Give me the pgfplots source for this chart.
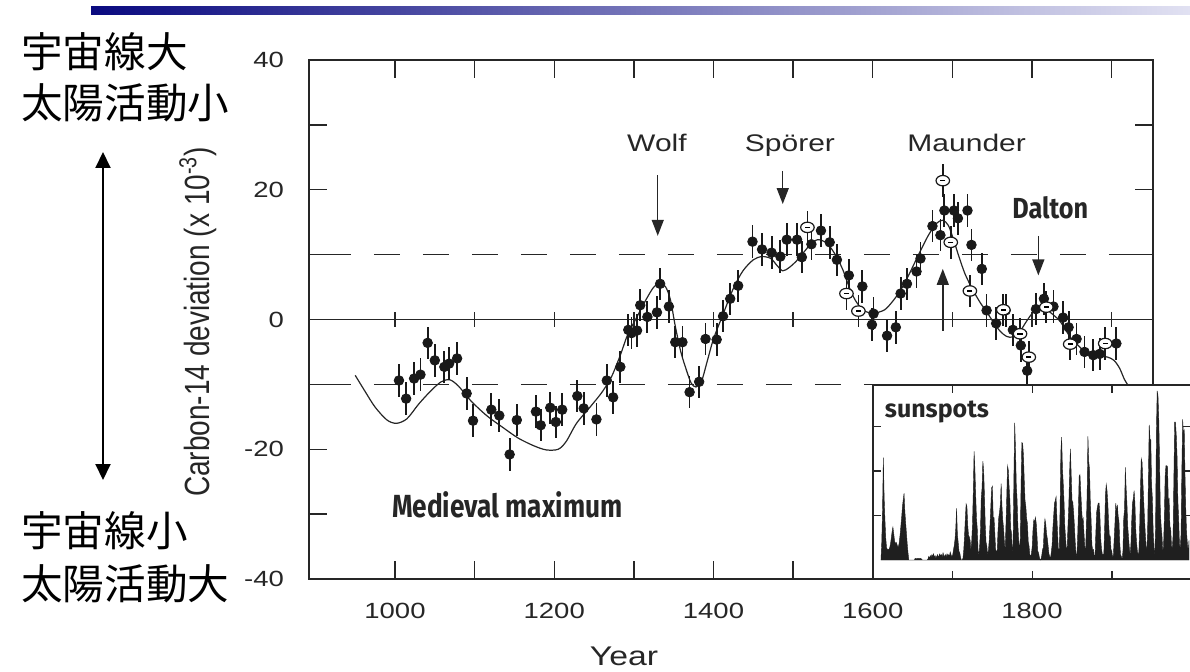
\documentclass[border=0pt]{standalone}
\usepackage{pgfplots}
\pgfplotsset{compat=1.18}
\usepackage{fontspec}
\setmainfont{Liberation Sans}
\newfontfamily\cjk{Noto Sans CJK JP}
\newfontfamily\fira{Fira Sans}
\usetikzlibrary{arrows.meta}
\definecolor{ink}{gray}{0.15}
\definecolor{navy}{RGB}{10,10,128}
\definecolor{lav}{RGB}{225,225,242}
\tikzset{img/.style={x=0.5pt,y=-0.5pt,yshift=335.5pt}}

\begin{document}
\begin{tikzpicture}
\useasboundingbox (0,0) rectangle (595pt,335.5pt);
\clip (0,0) rectangle (595pt,335.5pt);

% main carbon-14 panel
\begin{axis}[
  at={(154.5pt,46pt)}, anchor=south west,
  scale only axis, width=422pt, height=259.5pt,
  xmin=892, xmax=1952, ymin=-40, ymax=40,
  axis line style={ink, line width=0.7pt},
  tick style={ink, line width=0.7pt},
  tick align=inside, major tick length=9pt,
  xtick={1000,1100,...,1900},
  xticklabels={1000,,1200,,1400,,1600,,1800,},
  ytick={-40,-30,...,40},
  yticklabels={-40,,-20,,0,,20,,40},
  xticklabel style={font=\fontsize{11}{12}\selectfont, text=ink, xscale=1.25, yshift=-8.5pt},
  yticklabel style={font=\fontsize{11}{12}\selectfont, text=ink, xscale=1.25, xshift=-6.5pt},
]
\addplot[ink, line width=0.7pt] coordinates {(892,0) (1952,0)};
\addplot[only marks, mark=|, mark size=3.75pt, mark options={ink, line width=0.7pt}]
  coordinates {(1000,0)(1100,0)(1200,0)(1300,0)(1400,0)(1500,0)(1600,0)(1700,0)(1800,0)(1900,0)};
\addplot[ink, line width=0.7pt, dash pattern=on 13pt off 11.5pt] coordinates {(912,10) (1952,10)};
\addplot[ink, line width=0.7pt, dash pattern=on 13pt off 11.5pt] coordinates {(912,-10) (1952,-10)};

% smoothed curve
\addplot[ink, line width=0.6pt, smooth] coordinates {
(950,-8.6)(962,-11)(975,-13.5)(990,-15.5)(1002,-16)(1015,-15.3)(1030,-13)(1045,-11)
(1058,-9.6)(1069,-9.3)(1080,-10.3)(1095,-12.5)(1115,-14.8)(1135,-16.6)(1155,-18.3)
(1175,-19.5)(1190,-20.1)(1205,-20)(1215,-18.8)(1228,-16)(1245,-13.5)(1260,-11.2)
(1272,-8.8)(1283,-5.5)(1292,-2.4)(1303,0.2)(1315,3)(1325,5)(1333,5.6)(1340,5)(1346,3)
(1352,-1)(1359,-5)(1366,-7.8)(1372,-9.8)(1378,-10.4)(1385,-9.5)(1392,-6.5)(1400,-3)
(1412,0.8)(1425,4.8)(1437,7.5)(1450,9.2)(1461,9.7)(1472,9.4)(1480,8.3)(1487,7.5)
(1495,8)(1504,9)(1513,10.3)(1522,11.6)(1531,12.3)(1542,11.8)(1552,10.2)(1562,7.8)
(1572,4.5)(1580,2.6)(1590,1.3)(1602,1)(1615,1.5)(1625,2.8)(1635,4.5)(1645,6.8)
(1658,10.1)(1670,13)(1680,14.8)(1688,15.3)(1695,14.5)(1701,12.5)(1708,9.8)(1716,7)
(1726,4.5)(1735,2.6)(1743,1.2)(1752,-0.5)(1760,-1.8)(1768,-2.6)(1776,-2.7)(1784,-2)
(1793,-0.3)(1800,0.9)(1808,1.7)(1818,1.5)(1827,0.7)(1836,-0.4)(1848,-2.7)(1858,-4)
(1866,-4.9)(1875,-5.4)(1884,-5.6)(1895,-5.8)(1903,-6.3)(1910,-7.5)(1916,-9.2)(1921,-10.2)
};

% measurements
\addplot[only marks, mark=*, mark size=2.4pt, black!90,
  error bars/.cd, y dir=both, y fixed=2.5, error mark=none,
  error bar style={line width=0.9pt, black!90}] coordinates {
(1005,-9.4)(1014,-12.2)(1024,-9.1)(1032,-8.5)(1041,-3.6)(1050,-6.3)(1062,-7.3)(1068,-6.8)
(1078,-6.0)(1090,-11.4)(1098,-15.6)(1121,-13.9)(1131,-14.8)(1144,-20.8)(1153,-15.5)
(1177,-14.2)(1183,-16.3)(1195,-13.6)(1202,-15.8)(1210,-13.9)(1229,-11.8)(1237,-13.7)
(1253,-15.4)(1266,-9.4)(1274,-12.0)(1283,-7.3)(1293,-1.6)(1297,-2.1)(1304,-1.7)(1308,2.2)
(1317,0.4)(1329,1.1)(1333,5.5)(1344,2.0)(1352,-3.5)(1361,-3.5)(1370,-11.2)(1382,-9.6)
(1390,-3.0)(1404,-3.1)(1412,0.5)(1421,3.2)(1431,5.2)(1449,12.0)(1461,10.8)(1473,10.3)
(1484,9.7)(1492,12.3)(1505,12.3)(1511,9.6)(1523,11.6)(1535,13.7)(1546,11.9)(1555,9.2)
(1570,6.8)(1587,5.1)(1601,0.9)(1599,-0.8)(1618,-2.5)(1629,-1.2)(1635,4.0)(1643,5.5)
(1655,7.4)(1660,9.4)(1675,14.4)(1685,13.0)(1690,16.8)(1702,16.8)(1707,15.6)(1719,16.8)
(1724,11.5)(1737,7.8)(1743,1.4)(1755,-0.6)(1767,1.4)(1776,-1.6)(1786,-4.0)(1794,-7.9)
(1805,1.6)(1815,3.2)(1827,2.0)(1839,0.3)(1846,-1.2)(1856,-3.0)(1866,-5.0)(1877,-5.5)
(1885,-5.3)(1906,-3.7)
};
% open (other-source) points
\addplot[only marks, mark=*, mark size=2.6pt,
  mark options={fill=white, draw=black!90, line width=0.6pt, xscale=1.3},
  error bars/.cd, y dir=both, y fixed=2.5, error mark=none,
  error bar style={line width=0.9pt, black!90}] coordinates {
(1518,14.2)(1567,4.0)(1582,1.3)(1688,21.4)(1698,11.9)(1722,4.4)(1764,1.5)(1785,-2.2)
(1796,-5.8)(1818,1.9)(1848,-3.8)(1892,-3.7)
};
\addplot[only marks, mark=-, mark size=1.3pt, mark options={black, line width=0.8pt}] coordinates {
(1518,14.2)(1567,4.0)(1582,1.3)(1688,21.4)(1698,11.9)(1722,4.4)(1764,1.5)(1785,-2.2)
(1796,-5.8)(1818,1.9)(1848,-3.8)(1892,-3.7)
};

% minima markers
\draw[ink, line width=0.7pt, -{Triangle[width=6pt,length=8pt]}] (axis cs:1330,22.2) -- (axis cs:1330,12.9);
\draw[ink, line width=0.7pt, -{Triangle[width=6pt,length=8pt]}] (axis cs:1487,22.9) -- (axis cs:1487,17.8);
\draw[ink, line width=0.7pt, -{Triangle[width=6pt,length=8pt]}] (axis cs:1688,-1.7) -- (axis cs:1688,7.8);
\draw[ink, line width=0.7pt, -{Triangle[width=6pt,length=8pt]}] (axis cs:1808,12.9) -- (axis cs:1808,6.8);
\node[anchor=base, font=\fontsize{12}{14}\selectfont, text=ink, xscale=1.25] at (axis cs:1329,25.9) {Wolf};
\node[anchor=base, font=\fontsize{12}{14}\selectfont, text=ink, xscale=1.25] at (axis cs:1496,25.9) {Spörer};
\node[anchor=base, font=\fontsize{12}{14}\selectfont, text=ink, xscale=1.25] at (axis cs:1718,25.9) {Maunder};
\node[font=\fira\bfseries\fontsize{14.5}{16}\selectfont, text=ink, xscale=0.87] at (axis cs:1823,17.2) {Dalton};
\node[font=\fira\bfseries\fontsize{16}{18}\selectfont, text=ink, xscale=0.82] at (axis cs:1141,-28.6) {Medieval maximum};
\end{axis}

% sunspot inset
\begin{axis}[
  at={(436.5pt,46pt)}, anchor=south west, scale only axis,
  width=159.2pt, height=97pt,
  xmin=1600, xmax=2000, ymin=-21.3, ymax=196.7,
  axis background/.style={fill=white},
  axis line style={ink, line width=0.7pt},
  tick style={ink, line width=0.7pt},
  tick align=inside, major tick length=4pt,
  xtick={1600,1700,1800,1900}, ytick={50,100,150},
  xticklabels={}, yticklabels={},
]
\addplot[fill=black!88, draw=black!88, line width=0.2pt] coordinates {
(1610,0)(1611,20)(1612,58)(1613,115)(1614,70)(1615,45)(1616,25)(1617,14)(1618,12)(1619,12)
(1620,12)(1621,14)(1622,18)(1623,25)(1624,32)(1625,37)(1626,30)(1627,22)(1628,18)(1629,20)
(1630,18)(1631,15)(1632,15)(1633,20)(1634,28)(1635,38)(1636,48)(1637,60)(1638,68)(1639,75)
(1640,55)(1641,42)(1642,30)(1643,18)(1644,8)(1645,0)(1646,0)(1647,0)(1648,0)(1649,0)
(1650,0)(1651,0)(1652,0)(1653,2)(1654,2)(1655,1)(1656,2)(1657,2)(1658,1)(1659,2)
(1660,2)(1661,1)(1662,0)(1663,0)(1664,0)(1665,0)(1666,0)(1667,0)(1668,0)(1669,1)
(1670,4)(1671,2)(1672,5)(1673,3)(1674,6)(1675,4)(1676,7)(1677,3)(1678,5)(1679,2)
(1680,4)(1681,6)(1682,3)(1683,5)(1684,7)(1685,4)(1686,6)(1687,3)(1688,8)(1689,5)
(1690,4)(1691,6)(1692,3)(1693,7)(1694,5)(1695,6)(1696,4)(1697,9)(1698,6)(1699,4)
(1700,5)(1701,11)(1702,16)(1703,23)(1704,36)(1705,58)(1706,29)(1707,20)(1708,10)(1709,8)
(1710,3)(1711,0)(1712,0)(1713,2)(1714,11)(1715,27)(1716,47)(1717,63)(1718,60)(1719,39)
(1720,28)(1721,26)(1722,22)(1723,11)(1724,21)(1725,40)(1726,78)(1727,122)(1728,103)(1729,73)
(1730,47)(1731,35)(1732,11)(1733,5)(1734,16)(1735,34)(1736,70)(1737,81)(1738,111)(1739,101)
(1740,73)(1741,40)(1742,20)(1743,16)(1744,5)(1745,11)(1746,22)(1747,40)(1748,60)(1749,81)
(1750,83)(1751,48)(1752,48)(1753,31)(1754,12)(1755,10)(1756,10)(1757,32)(1758,48)(1759,54)
(1760,63)(1761,86)(1762,61)(1763,45)(1764,36)(1765,21)(1766,11)(1767,38)(1768,70)(1769,106)
(1770,101)(1771,82)(1772,67)(1773,35)(1774,31)(1775,7)(1776,20)(1777,93)(1778,154)(1779,126)
(1780,85)(1781,68)(1782,39)(1783,23)(1784,10)(1785,24)(1786,83)(1787,132)(1788,131)(1789,118)
(1790,90)(1791,67)(1792,60)(1793,47)(1794,41)(1795,21)(1796,16)(1797,6)(1798,4)(1799,7)
(1800,15)(1801,34)(1802,45)(1803,43)(1804,48)(1805,42)(1806,28)(1807,10)(1808,8)(1809,3)
(1810,0)(1811,1)(1812,5)(1813,12)(1814,14)(1815,35)(1816,46)(1817,41)(1818,30)(1819,24)
(1820,16)(1821,7)(1822,4)(1823,2)(1824,9)(1825,17)(1826,36)(1827,50)(1828,64)(1829,67)
(1830,71)(1831,48)(1832,28)(1833,9)(1834,13)(1835,57)(1836,122)(1837,138)(1838,103)(1839,86)
(1840,65)(1841,37)(1842,24)(1843,11)(1844,15)(1845,40)(1846,62)(1847,99)(1848,125)(1849,96)
(1850,67)(1851,65)(1852,54)(1853,39)(1854,21)(1855,7)(1856,4)(1857,23)(1858,55)(1859,94)
(1860,96)(1861,77)(1862,59)(1863,44)(1864,47)(1865,31)(1866,16)(1867,7)(1868,38)(1869,74)
(1870,139)(1871,111)(1872,102)(1873,66)(1874,45)(1875,17)(1876,11)(1877,12)(1878,3)(1879,6)
(1880,32)(1881,54)(1882,60)(1883,64)(1884,64)(1885,52)(1886,25)(1887,13)(1888,7)(1889,6)
(1890,7)(1891,36)(1892,73)(1893,85)(1894,78)(1895,64)(1896,42)(1897,26)(1898,27)(1899,12)
(1900,10)(1901,3)(1902,5)(1903,24)(1904,42)(1905,64)(1906,54)(1907,62)(1908,49)(1909,44)
(1910,19)(1911,6)(1912,4)(1913,1)(1914,10)(1915,47)(1916,57)(1917,104)(1918,81)(1919,64)
(1920,38)(1921,26)(1922,14)(1923,6)(1924,17)(1925,44)(1926,64)(1927,69)(1928,78)(1929,65)
(1930,36)(1931,21)(1932,11)(1933,6)(1934,9)(1935,36)(1936,80)(1937,114)(1938,110)(1939,89)
(1940,68)(1941,48)(1942,31)(1943,16)(1944,10)(1945,33)(1946,93)(1947,152)(1948,136)(1949,135)
(1950,84)(1951,69)(1952,32)(1953,14)(1954,4)(1955,38)(1956,142)(1957,190)(1958,185)(1959,159)
(1960,112)(1961,54)(1962,38)(1963,28)(1964,10)(1965,15)(1966,47)(1967,94)(1968,106)(1969,106)
(1970,105)(1971,67)(1972,69)(1973,38)(1974,35)(1975,16)(1976,13)(1977,28)(1978,93)(1979,155)
(1980,155)(1981,140)(1982,116)(1983,67)(1984,46)(1985,18)(1986,13)(1987,29)(1988,100)(1989,158)
(1990,143)(1991,146)(1992,94)(1993,55)(1994,30)(1995,18)(1996,9)(1997,22)
} \closedcycle;
\end{axis}

\begin{scope}[img]
  \shade[left color=navy, right color=lav] (91,7) rectangle (1190,15);
  \node[font=\fira\bfseries\fontsize{12.5}{14}\selectfont, text=ink] at (937,412) {sunspots};
  \node[font=\fontsize{13.5}{15}\selectfont, text=ink, xscale=1.25] at (624,656) {Year};
  \node[font=\fontsize{14}{16}\selectfont, text=ink, rotate=90, yscale=1.25] at (198,322)
    {Carbon-14 deviation (x 10\textsuperscript{-3})};
  \node[anchor=west, inner sep=0pt, font=\cjk\fontsize{20.8}{21}\selectfont] at (21,52) {宇宙線大};
  \node[anchor=west, inner sep=0pt, font=\cjk\fontsize{20.8}{21}\selectfont] at (21,103) {太陽活動小};
  \node[anchor=west, inner sep=0pt, font=\cjk\fontsize{20.8}{21}\selectfont] at (21,531) {宇宙線小};
  \node[anchor=west, inner sep=0pt, font=\cjk\fontsize{20.8}{21}\selectfont] at (21,584) {太陽活動大};
  \draw[line width=1pt, {Triangle[width=7.5pt,length=8pt]}-{Triangle[width=7.5pt,length=8pt]}]
    (103,152) -- (103,480);
\end{scope}
\end{tikzpicture}
\end{document}
